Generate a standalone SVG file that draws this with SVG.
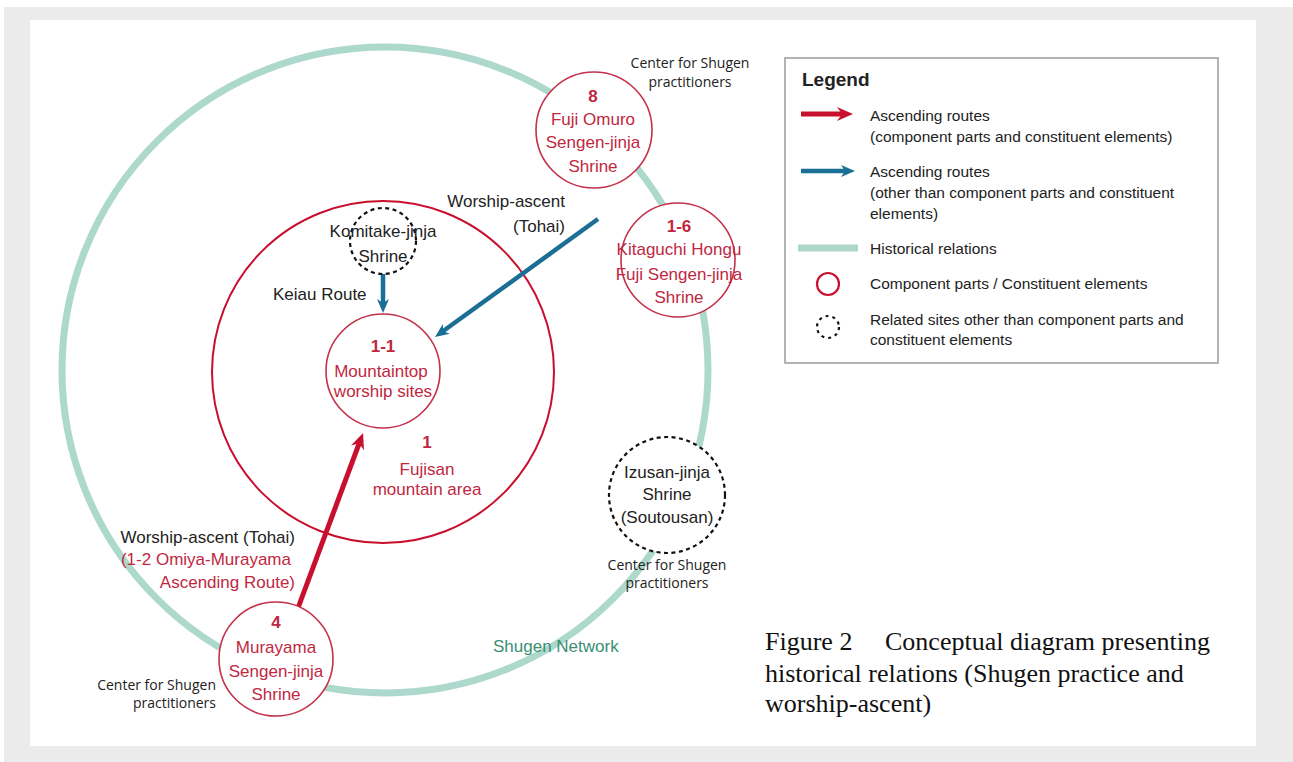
<svg xmlns="http://www.w3.org/2000/svg" width="1293" height="762" viewBox="0 0 1293 762">
<style>
.lbl{font-family:"Liberation Sans",Arial,sans-serif;font-size:17px;fill:#222;}
.red{fill:#c0283f;}
.num{font-weight:bold;fill:#c0283f;}
.ctr{text-anchor:middle;}
.end{text-anchor:end;}
.center{font-family:"Open Sans","Noto Sans",sans-serif;font-size:14px;fill:#222;}
.leg{font-family:"Liberation Sans",Arial,sans-serif;font-size:15.5px;fill:#222;}
.cap{font-family:"Liberation Serif","Times New Roman",serif;font-size:26px;fill:#111;}
.comp{fill:#fff;stroke:#c4304a;stroke-width:1.6;}
.rel{fill:#fff;stroke:#111;stroke-width:2.2;stroke-dasharray:4 3.5;}
.redln{stroke:#c8102e;stroke-width:5;fill:none;}
.blueln{stroke:#1b6f94;stroke-width:4.5;fill:none;}
</style>
<defs>
<marker id="hRed" markerUnits="userSpaceOnUse" markerWidth="16" markerHeight="14" refX="7" refY="7" orient="auto">
<path d="M0,0 L16,7 L0,14 L5,7 z" fill="#c8102e"/>
</marker>
<marker id="hBlue" markerUnits="userSpaceOnUse" markerWidth="14" markerHeight="12" refX="6" refY="6" orient="auto">
<path d="M0,0 L14,6 L0,12 L4,6 z" fill="#1b6f94"/>
</marker>
</defs>
<rect x="0" y="0" width="1293" height="762" fill="#fff"/>
<rect x="4" y="7" width="1289" height="755" fill="#ebebeb"/>
<rect x="30" y="20" width="1226" height="726" fill="#fff"/>

<g id="shugen-network">
<circle cx="385" cy="370" r="323" fill="none" stroke="#acd9cc" stroke-width="7"/>
<text class="lbl" x="493" y="652" fill="#3a8f73" style="fill:#3a8f73">Shugen Network</text>
</g>

<g id="node-1-fujisan">
<circle cx="383" cy="372" r="171" fill="none" stroke="#c8102e" stroke-width="2"/>
<text class="lbl num ctr" x="427" y="448">1</text>
<text class="lbl red ctr" x="427" y="475">Fujisan</text>
<text class="lbl red ctr" x="427" y="495">mountain area</text>
</g>

<g id="connectors">
<line class="redln" x1="298" y1="608" x2="359.9" y2="441.4" marker-end="url(#hRed)"/>
<line class="blueln" x1="598" y1="219" x2="441.5" y2="332.3" marker-end="url(#hBlue)"/>
<line class="blueln" x1="383" y1="274" x2="383" y2="305" marker-end="url(#hBlue)"/>
<text class="lbl" x="273" y="300">Keiau Route</text>
<text class="lbl end" x="565" y="207">Worship-ascent</text>
<text class="lbl end" x="565" y="232">(Tohai)</text>
<text class="lbl end" x="295" y="543">Worship-ascent (Tohai)</text>
<text class="lbl red end" x="291" y="565">(1-2 Omiya-Murayama</text>
<text class="lbl red end" x="295" y="588">Ascending Route)</text>
</g>

<g id="node-1-1">
<circle class="comp" cx="383" cy="371" r="57"/>
<text class="lbl num ctr" x="383" y="352">1-1</text>
<text class="lbl red ctr" x="381" y="377">Mountaintop</text>
<text class="lbl red ctr" x="383" y="397">worship sites</text>
</g>

<g id="node-komitake">
<circle class="rel" cx="383" cy="241" r="33"/>
<text class="lbl ctr" x="383" y="237">Komitake-jinja</text>
<text class="lbl ctr" x="383" y="262">Shrine</text>
</g>

<g id="node-8">
<circle class="comp" cx="594" cy="130" r="58"/>
<text class="lbl num ctr" x="593" y="102">8</text>
<text class="lbl red ctr" x="593" y="125">Fuji Omuro</text>
<text class="lbl red ctr" x="593" y="148">Sengen-jinja</text>
<text class="lbl red ctr" x="593" y="172">Shrine</text>
<text class="center ctr" x="690" y="68">Center for Shugen</text>
<text class="center ctr" x="690" y="87">practitioners</text>
</g>

<g id="node-1-6">
<circle class="comp" cx="678" cy="260" r="57"/>
<text class="lbl num ctr" x="679" y="232">1-6</text>
<text class="lbl red ctr" x="679" y="255">Kitaguchi Hongu</text>
<text class="lbl red ctr" x="679" y="280">Fuji Sengen-jinja</text>
<text class="lbl red ctr" x="679" y="303">Shrine</text>
</g>

<g id="node-izusan">
<circle class="rel" cx="667" cy="495" r="58"/>
<text class="lbl ctr" x="667" y="478">Izusan-jinja</text>
<text class="lbl ctr" x="667" y="500">Shrine</text>
<text class="lbl ctr" x="667" y="523">(Soutousan)</text>
<text class="center ctr" x="667" y="570">Center for Shugen</text>
<text class="center ctr" x="667" y="588">practitioners</text>
</g>

<g id="node-4">
<circle class="comp" cx="276" cy="659" r="57"/>
<text class="lbl num ctr" x="276" y="628">4</text>
<text class="lbl red ctr" x="276" y="653">Murayama</text>
<text class="lbl red ctr" x="276" y="677">Sengen-jinja</text>
<text class="lbl red ctr" x="276" y="700">Shrine</text>
<text class="center end" x="216" y="690">Center for Shugen</text>
<text class="center end" x="216" y="708">practitioners</text>
</g>

<g id="legend">
<rect x="785" y="58" width="433" height="305" fill="#fff" stroke="#9a9a9a" stroke-width="1.5"/>
<text class="leg" x="802" y="86" style="font-weight:bold;font-size:19px">Legend</text>
<line class="redln" x1="801" y1="114" x2="844" y2="114" stroke-width="4" marker-end="url(#hRed)"/>
<text class="leg" x="870" y="121">Ascending routes</text>
<text class="leg" x="870" y="142">(component parts and constituent elements)</text>
<line class="blueln" x1="801" y1="171" x2="847" y2="171" stroke-width="4" marker-end="url(#hBlue)"/>
<text class="leg" x="870" y="177">Ascending routes</text>
<text class="leg" x="870" y="198">(other than component parts and constituent</text>
<text class="leg" x="870" y="219">elements)</text>
<line x1="798" y1="248" x2="858" y2="248" stroke="#acd6c6" stroke-width="7"/>
<text class="leg" x="870" y="254">Historical relations</text>
<circle cx="828" cy="284" r="11" fill="none" stroke="#c8102e" stroke-width="2.2"/>
<text class="leg" x="870" y="289">Component parts / Constituent elements</text>
<circle cx="828" cy="327" r="11" fill="none" stroke="#111" stroke-width="2.2" stroke-dasharray="3 4"/>
<text class="leg" x="870" y="325">Related sites other than component parts and</text>
<text class="leg" x="870" y="345">constituent elements</text>
</g>

<g id="caption">
<text class="cap" x="765" y="650">Figure 2<tspan x="885">Conceptual diagram presenting</tspan></text>
<text class="cap" x="765" y="682">historical relations (Shugen practice and</text>
<text class="cap" x="765" y="712">worship-ascent)</text>
</g>
</svg>
